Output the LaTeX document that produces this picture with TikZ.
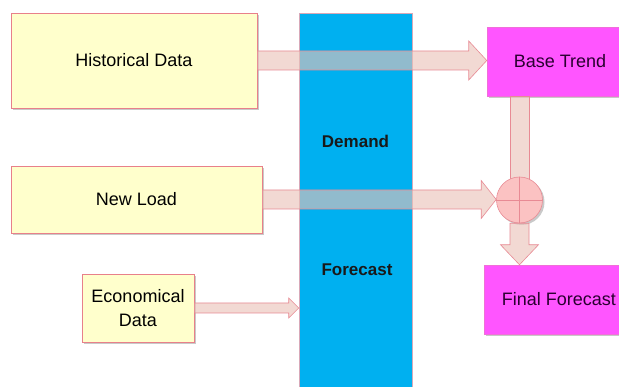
\documentclass[tikz,border=0pt]{standalone}
\usepackage{fontspec}
\setmainfont{Liberation Sans}
\usetikzlibrary{calc,shadows}

\definecolor{inputfill}{HTML}{FFFFCC}
\definecolor{inputedge}{HTML}{E8808A}
\definecolor{columnblue}{HTML}{00B0F0}
\definecolor{columnedge}{HTML}{D8A8B8}
\definecolor{resultfill}{HTML}{FF55FF}
\definecolor{resultedge}{HTML}{F070D8}
\definecolor{flowfill}{HTML}{EBC2B8}
\definecolor{flowedge}{HTML}{E88A94}
\definecolor{sumfill}{HTML}{FBC2C2}
\definecolor{resulttext}{HTML}{2A0030}

% horizontal block arrow: start, end, half shaft, half head, head length
\newcommand\flowright[5]{%
  \path[flow] let \p1=(#1), \p2=(#2) in
    (\x1,\y1+#3) -- (\x2-#5,\y1+#3) -- (\x2-#5,\y1+#4) -- (\x2,\y1)
    -- (\x2-#5,\y1-#4) -- (\x2-#5,\y1-#3) -- (\x1,\y1-#3) -- cycle;}
% downward block arrow: start, end, half shaft, half head, head length
\newcommand\flowdown[5]{%
  \path[flow] let \p1=(#1), \p2=(#2) in
    (\x1-#3,\y1) -- (\x1-#3,\y2+#5) -- (\x1-#4,\y2+#5) -- (\x1,\y2)
    -- (\x1+#4,\y2+#5) -- (\x1+#3,\y2+#5) -- (\x1+#3,\y1) -- cycle;}

\begin{document}
\begin{tikzpicture}[x=1pt,y=-1pt,
  softshadow/.style={drop shadow={shadow xshift=2pt,shadow yshift=-2pt,opacity=0.35,fill=black!60}},
  inputbox/.style={draw=inputedge,line width=0.7pt,fill=inputfill,softshadow,
    inner sep=0pt,align=center,font=\fontsize{18}{24}\selectfont},
  resultbox/.style={draw=resultedge,line width=0.5pt,fill=resultfill,softshadow,
    inner sep=0pt,text=resulttext,font=\fontsize{18}{24}\selectfont},
  columnlabel/.style={font=\bfseries\fontsize{17}{22}\selectfont,text=black!90},
  flow/.style={fill=flowfill,fill opacity=0.62,draw=flowedge,line width=0.6pt},
]
\useasboundingbox (0,0) rectangle (619,387);
\clip (0,0) rectangle (619,387);
\fill[white] (0,0) rectangle (619,387);

% central demand forecast column
\node[draw=columnedge,line width=0.6pt,fill=columnblue,minimum width=113pt,minimum height=384pt,inner sep=0pt]
  (column) at (355.5,205) {};
\node[columnlabel] (demand) at (355.5,141) {Demand};
\node[columnlabel] (forecast) at (357,270) {Forecast};

% inputs
\node[inputbox,minimum width=246pt,minimum height=95pt] (hist) at (134,60.5) {\raisebox{-2pt}{Historical Data}};
\node[inputbox,minimum width=251pt,minimum height=67pt] (newload) at (136.5,199.5) {\raisebox{-2pt}{New Load}};
\node[inputbox,minimum width=112pt,minimum height=68pt] (econ) at (138,308) {Economical\\Data};

% results
\node[resultbox,minimum width=146pt,minimum height=69pt] (base) at (560,61.5) {\raisebox{-1.5pt}{Base Trend}};
\node[resultbox,minimum width=150pt,minimum height=69pt] (final) at (559,299.5) {\raisebox{-1.5pt}{Final Forecast}};

% summing junction position
\coordinate (sumc) at (519.5,200);

% flows
\flowright{hist.east}{base.west}{9.5pt}{19.5pt}{18pt}
\path[flow] let \p1=(base.south), \p2=(sumc) in (\x2-9.5pt,\y1) rectangle (\x2+9.5pt,\y2);
\node[circle,draw=flowedge,line width=0.6pt,fill=sumfill,minimum size=46pt,inner sep=0pt,softshadow]
  (sum) at (sumc) {};
\draw[flowedge,line width=0.6pt] (sum.north) -- (sum.south) (sum.west) -- (sum.east);
\flowright{newload.east}{sum.west}{9.5pt}{19pt}{15pt}
\flowdown{sum.south}{final.north}{9.5pt}{19pt}{20pt}
\flowright{econ.east}{column.west}{5pt}{10pt}{10pt}
\end{tikzpicture}
\end{document}
